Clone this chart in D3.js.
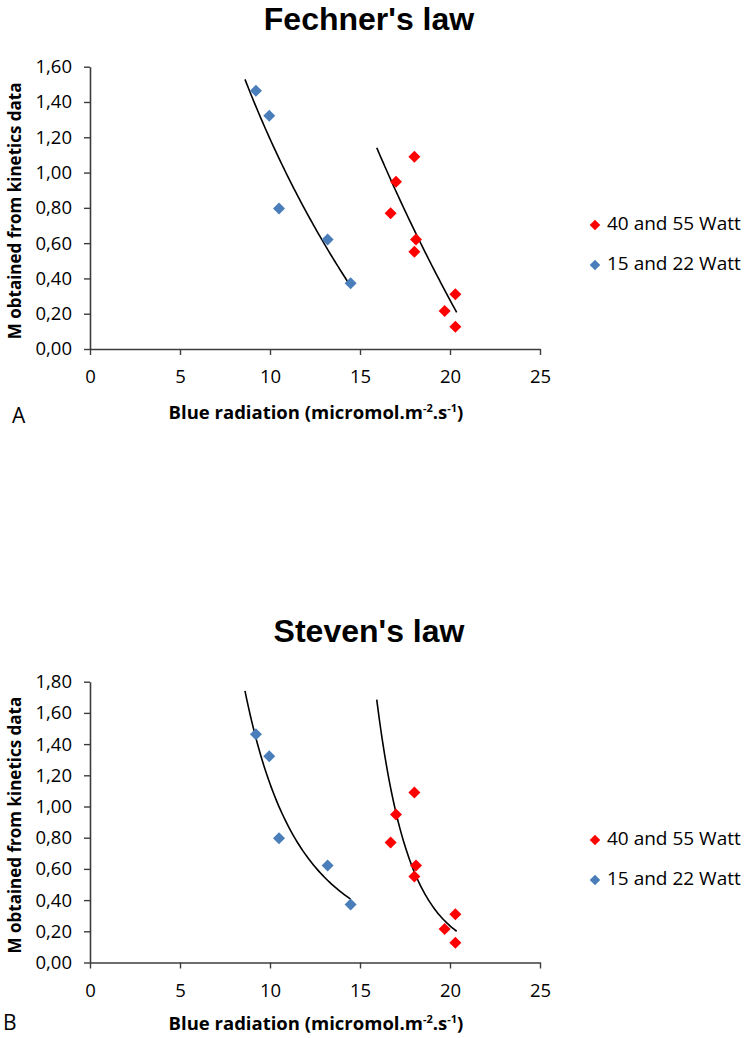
<!DOCTYPE html>
<html>
<head>
<meta charset="utf-8">
<script src="https://cdn.jsdelivr.net/npm/d3@7"></script>
<style>
  html, body { margin: 0; padding: 0; background: #fff; }
  svg { display: block; font-family: "Open Sans", "DejaVu Sans", sans-serif; }
</style>
</head>
<body>
<svg id="chart" width="750" height="1038"></svg>
<script>
// ---- data ----
const blueX = [9.22, 9.96, 10.5, 13.2, 14.48];
const blueY = [1.463, 1.322, 0.797, 0.621, 0.372];
const redX  = [18.02, 17.0, 16.7, 18.11, 18.02, 20.3, 19.7, 20.3];
const redY  = [1.090, 0.948, 0.769, 0.621, 0.551, 0.310, 0.215, 0.126];
const blueTrendRange = [8.61, 14.48];
const redTrendRange  = [15.93, 20.37];
const xTicks  = [0, 5, 10, 15, 20, 25];
const yTicksA = [0, 0.2, 0.4, 0.6, 0.8, 1.0, 1.2, 1.4, 1.6];
const yTicksB = [0, 0.2, 0.4, 0.6, 0.8, 1.0, 1.2, 1.4, 1.6, 1.8];
const seriesNames = ["40 and 55 Watt", "15 and 22 Watt"];
const titles = ["Fechner's law", "Steven's law"];
const panelLetters = ["A", "B"];

const colors = { red: "#FF0000", blue: "#4A7EBB" };
const axisColor = "#3c3c3c";
const fmt = d3.formatLocale({decimal: ",", thousands: ".", grouping: [3], currency: ["", ""]}).format(".2f");
const baseFont = "'Open Sans', 'DejaVu Sans', sans-serif";
const titleFont = "'Liberation Sans', Arial, sans-serif";

const svg = d3.select("#chart");

// least squares fits (Excel-style trendlines)
function lsq(xs, ys) {
  const n = xs.length;
  const mx = d3.mean(xs), my = d3.mean(ys);
  let sxy = 0, sxx = 0;
  for (let i = 0; i < n; i++) { sxy += (xs[i]-mx)*(ys[i]-my); sxx += (xs[i]-mx)**2; }
  const b = sxy / sxx;
  return { a: my - b*mx, b };
}
function logFit(xs, ys) {       // y = a + b ln x
  const f = lsq(xs.map(Math.log), ys);
  return x => f.a + f.b*Math.log(x);
}
function powFit(xs, ys) {       // y = A x^b
  const f = lsq(xs.map(Math.log), ys.map(Math.log));
  return x => Math.exp(f.a) * Math.pow(x, f.b);
}

const panels = [
  { top: 66.7, bottom: 349, yMax: 1.6, yTicks: yTicksA, fit: logFit,
    titleY: 29.5, tickLabelY: 378, xTitleY: 419, legendY: [225, 265], letterY: 423, letterX: 12 },
  { top: 681.7, bottom: 962.5, yMax: 1.8, yTicks: yTicksB, fit: powFit,
    titleY: 642, tickLabelY: 992, xTitleY: 1030, legendY: [840, 880], letterY: 1030, letterX: 3 }
];

const left = 90, right = 540;
const diamond = d3.symbol().type(d3.symbolSquare).size(72);
const legendDiamond = d3.symbol().type(d3.symbolSquare).size(56);

panels.forEach((p, pi) => {
  const g = svg.append("g");
  const x = d3.scaleLinear().domain([0, 25]).range([left, right]);
  const y = d3.scaleLinear().domain([0, p.yMax]).range([p.bottom, p.top]);

  // title
  g.append("text").attr("x", 369).attr("y", p.titleY)
    .attr("text-anchor", "middle")
    .style("font-family", titleFont).style("font-size", "32px").style("font-weight", 700)
    .attr("fill", "#000").text(titles[pi]);

  // y axis
  const yAxis = g.append("g").attr("transform", `translate(${left},0)`)
    .call(d3.axisLeft(y).tickValues(p.yTicks).tickFormat(fmt).tickSize(6).tickSizeOuter(0).tickPadding(6));
  yAxis.attr("font-family", null).attr("font-size", null);
  yAxis.select(".domain").attr("stroke", axisColor).attr("stroke-width", 1.6);
  yAxis.selectAll(".tick line").attr("stroke", axisColor).attr("stroke-width", 1.4);
  yAxis.selectAll(".tick text").style("font-size", "18.5px").attr("fill", "#000")
    .style("font-family", baseFont).attr("dx", -6);

  // x axis
  const xAxis = g.append("g").attr("transform", `translate(0,${p.bottom})`)
    .call(d3.axisBottom(x).tickValues(xTicks).tickFormat(d3.format("d")).tickSize(6).tickSizeOuter(0));
  xAxis.attr("font-family", null).attr("font-size", null);
  xAxis.select(".domain").attr("stroke", axisColor).attr("stroke-width", 1.6);
  xAxis.selectAll(".tick line").attr("stroke", axisColor).attr("stroke-width", 1.4);
  xAxis.selectAll(".tick text").style("font-size", "18.5px").attr("fill", "#000")
    .style("font-family", baseFont)
    .attr("y", null).attr("dy", null)
    .attr("transform", `translate(0,${p.tickLabelY - p.bottom})`)
    .attr("dominant-baseline", "middle");

  // axis titles
  const xt = g.append("text").attr("x", (left+right)/2 + 1).attr("y", p.xTitleY)
    .attr("text-anchor", "middle").style("font-size", "18.5px").style("font-weight", 700)
    .style("font-family", baseFont).attr("fill", "#000");
  xt.append("tspan").text("Blue radiation (micromol.m");
  xt.append("tspan").style("font-size", "11px").attr("dy", -7).text("-2");
  xt.append("tspan").attr("dy", 7).text(".s");
  xt.append("tspan").style("font-size", "11px").attr("dy", -7).text("-1");
  xt.append("tspan").attr("dy", 7).text(")");

  g.append("text")
    .attr("transform", `translate(21,${(p.top+p.bottom)/2 + 3}) rotate(-90)`)
    .attr("text-anchor", "middle").style("font-size", "17px").style("font-weight", 700)
    .style("font-family", baseFont).attr("fill", "#000")
    .text("M obtained from kinetics data");

  // panel letter
  g.append("text").attr("x", p.letterX).attr("y", p.letterY)
    .style("font-size", "21px").style("font-family", baseFont).attr("fill", "#000").text(panelLetters[pi]);

  // trend lines
  const line = d3.line().x(d => x(d[0])).y(d => y(d[1]));
  [[blueX, blueY, blueTrendRange], [redX, redY, redTrendRange]].forEach(([xs, ys, rng]) => {
    const f = p.fit(xs, ys);
    const pts = d3.range(0, 61).map(i => {
      const xv = rng[0] + (rng[1]-rng[0]) * i / 60;
      return [xv, f(xv)];
    });
    g.append("path").attr("d", line(pts)).attr("fill", "none")
      .attr("stroke", "#000").attr("stroke-width", 1.6);
  });

  // points
  const drawPts = (xs, ys, col) => {
    g.append("g").selectAll("path").data(xs.map((v, i) => [v, ys[i]])).join("path")
      .attr("d", diamond)
      .attr("transform", d => `translate(${x(d[0])},${y(d[1])}) rotate(45)`)
      .attr("fill", col);
  };
  drawPts(blueX, blueY, colors.blue);
  drawPts(redX, redY, colors.red);

  // legend
  const leg = [[seriesNames[0], colors.red], [seriesNames[1], colors.blue]];
  leg.forEach(([name, col], i) => {
    const ly = p.legendY[i];
    g.append("path").attr("d", legendDiamond)
      .attr("transform", `translate(595,${ly}) rotate(45)`).attr("fill", col);
    g.append("text").attr("x", 607).attr("y", ly).attr("dominant-baseline", "middle")
      .style("font-size", "19px").style("font-family", baseFont).attr("fill", "#000").text(name);
  });
});
</script>
</body>
</html>
